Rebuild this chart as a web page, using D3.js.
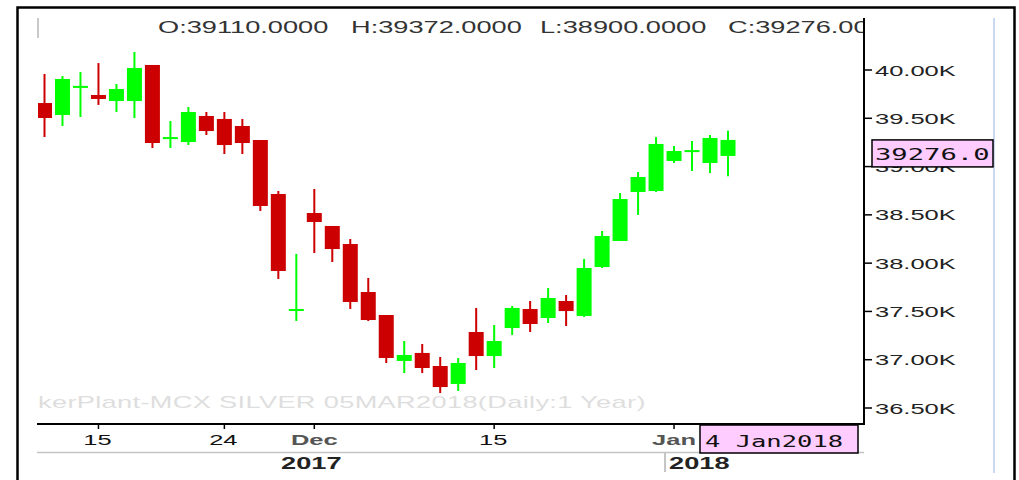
<!DOCTYPE html>
<html><head><meta charset="utf-8">
<script src="https://cdn.jsdelivr.net/npm/d3@7"></script>
<style>html,body{margin:0;padding:0;background:#fff;overflow:hidden}</style>
</head><body>
<script>
// ---- data ----
const dates = ["2017-11-10","2017-11-13","2017-11-14","2017-11-15","2017-11-16","2017-11-17","2017-11-20","2017-11-21","2017-11-22","2017-11-23","2017-11-24","2017-11-27","2017-11-28","2017-11-29","2017-11-30","2017-12-01","2017-12-04","2017-12-05","2017-12-06","2017-12-07","2017-12-08","2017-12-11","2017-12-12","2017-12-13","2017-12-14","2017-12-15","2017-12-18","2017-12-19","2017-12-20","2017-12-21","2017-12-22","2017-12-26","2017-12-27","2017-12-28","2017-12-29","2018-01-01","2018-01-02","2018-01-03","2018-01-04"];
const opens  = [39658,39534,39820,39741,39679,39679,40052,39290,39254,39524,39493,39420,39275,38716,37510,38519,38385,38198,37701,37463,36987,37070,36935,36749,37287,37038,37328,37525,37432,37608,37453,37960,38229,38737,38747,39058,39155,39037,39110];
const highs  = [39959,39938,39979,40072,39855,40186,40052,39472,39617,39565,39565,39493,39275,38747,38095,38768,38385,38250,37846,37463,37194,37163,37028,37018,37536,37359,37556,37608,37743,37670,38043,38333,38726,38944,39306,39213,39265,39327,39372];
const lows   = [39306,39420,39513,39638,39565,39503,39192,39192,39223,39327,39130,39130,38540,37836,37401,38105,38012,37525,37401,36966,36862,36862,36655,36676,36893,36914,37256,37287,37380,37349,37442,37950,38229,38499,38737,39037,38954,38933,38900];
const closes = [39503,39907,39830,39700,39803,40021,39244,39300,39565,39368,39223,39244,38592,37919,37520,38426,38146,37598,37411,37018,37049,36914,36717,36966,37038,37194,37536,37370,37639,37504,37950,38281,38664,38892,39234,39161,39165,39296,39276];
const yTickValues = [36500,37000,37500,38000,38500,39000,39500,40000];
const dayTickDates = ["2017-11-15","2017-11-24","2017-12-15"];
const dayTickLabels = ["15","24","15"];
const monthTickDates = ["2017-12-01","2018-01-01"];
const monthTickLabels = ["Dec","Jan"];
const yearLabels = ["2017","2018"];
const watermark = "kerPlant-MCX SILVER 05MAR2018(Daily:1 Year)";
const cursorDateLabel = "4 Jan2018";

// ---- layout ----
const W = 1019, H = 480, SX = 1.7;
const plot = {left: 38, right: 864, top: 18, bottom: 424};
const font = "'Liberation Sans', Arial, sans-serif";
const mono = "'DejaVu Sans Mono', monospace";

const svg = d3.select("body").append("svg").attr("width", W).attr("height", H);
svg.append("rect").attr("width", W).attr("height", H).attr("fill", "#fff");

const idx = d => dates.indexOf(d);
const x = d3.scaleLinear().domain([0, dates.length - 1]).range([44.5, 728]);
const y = d3.scaleLinear().domain([36500, 40000]).range([408, 70]);

function txt(g, s, tx, ty, opts) {
  const t = g.append("text")
    .attr("transform", `translate(${tx},${ty}) scale(${opts.sx || SX},1)`)
    .attr("font-family", opts.family || font)
    .attr("font-size", opts.size || 15)
    .attr("font-weight", opts.weight || "normal")
    .attr("fill", opts.fill || "#222")
    .attr("text-anchor", opts.anchor || "start")
    .text(s);
  if (opts.ls) t.attr("letter-spacing", opts.ls);
  return t;
}

const defs = svg.append("defs");
defs.append("clipPath").attr("id", "plotclip").append("rect")
  .attr("x", plot.left).attr("y", 8).attr("width", plot.right - plot.left).attr("height", plot.bottom - 8);

// outer frame
svg.append("path").attr("d", `M17.5,482 L17.5,7.5 L1014.5,7.5 L1014.5,482`)
  .attr("fill", "none").attr("stroke", "#000").attr("stroke-width", 2.5);

// light blue line on right
svg.append("line").attr("x1", 994).attr("x2", 994).attr("y1", 18).attr("y2", 473)
  .attr("stroke", "#c9d9f0").attr("stroke-width", 2);

// small grey marker at top-left
svg.append("line").attr("x1", 38).attr("x2", 38).attr("y1", 18).attr("y2", 38)
  .attr("stroke", "#c8c8c8").attr("stroke-width", 2);

const pg = svg.append("g").attr("clip-path", "url(#plotclip)");

// watermark
txt(pg, watermark, plot.left, 408, {size: 16, fill: "#dedede", ls: 0.2});

// header OHLC
const n = dates.length - 1;
const hdr = [["O", opens[n]], ["H", highs[n]], ["L", lows[n]], ["C", closes[n]]];
const hdrX = [158, 351, 540, 728];
hdr.forEach((h, i) => txt(pg, `${h[0]}:${h[1].toFixed(4)}`, hdrX[i], 33, {size: 16, fill: "#333"}));

// candles
const up = "#00ff00", down = "#cc0000", bw = 15;
const cg = pg.append("g");
dates.forEach((d, i) => {
  const o = opens[i], c = closes[i];
  const col = c >= o ? up : down;
  const cx = x(i);
  cg.append("line").attr("x1", cx).attr("x2", cx)
    .attr("y1", y(highs[i])).attr("y2", y(lows[i]))
    .attr("stroke", col).attr("stroke-width", 2);
  const yt = y(Math.max(o, c)), yb = y(Math.min(o, c));
  let h = yb - yt, top = yt;
  if (h < 2) { top = (yt + yb) / 2 - 1; h = 2; }
  cg.append("rect").attr("x", cx - bw / 2).attr("y", top)
    .attr("width", bw).attr("height", h).attr("fill", col);
});

// right axis
svg.append("line").attr("x1", plot.right).attr("x2", plot.right).attr("y1", plot.top).attr("y2", plot.bottom + 1)
  .attr("stroke", "#000").attr("stroke-width", 2);
const yg = svg.append("g");
yTickValues.forEach(v => {
  yg.append("line").attr("x1", plot.right).attr("x2", plot.right + 8)
    .attr("y1", y(v)).attr("y2", y(v)).attr("stroke", "#000").attr("stroke-width", 1.5);
  txt(yg, (v / 1000).toFixed(2) + "K", plot.right + 11, y(v) + 5.5, {size: 15, fill: "#222"});
});

// bottom axis
svg.append("line").attr("x1", 37).attr("x2", plot.right + 1).attr("y1", plot.bottom).attr("y2", plot.bottom)
  .attr("stroke", "#000").attr("stroke-width", 2);
const xg = svg.append("g");
dayTickDates.forEach((d, i) => {
  const px = x(idx(d));
  xg.append("line").attr("x1", px).attr("x2", px).attr("y1", plot.bottom).attr("y2", plot.bottom + 5)
    .attr("stroke", "#000").attr("stroke-width", 1.5);
  txt(xg, dayTickLabels[i], px - 1, 445, {size: 15, anchor: "middle", fill: "#111"});
});
monthTickDates.forEach((d, i) => {
  const px = x(idx(d));
  xg.append("line").attr("x1", px).attr("x2", px).attr("y1", plot.bottom).attr("y2", plot.bottom + 5)
    .attr("stroke", "#000").attr("stroke-width", 1.5);
  txt(xg, monthTickLabels[i], px, 445, {size: 15, anchor: "middle", weight: "bold", fill: "#555"});
});

// year row
svg.append("line").attr("x1", 37).attr("x2", plot.right).attr("y1", 452.5).attr("y2", 452.5)
  .attr("stroke", "#c4c4c4").attr("stroke-width", 1.5);
const sepX = (x(idx("2017-12-29")) + x(idx("2018-01-01"))) / 2;
svg.append("line").attr("x1", sepX).attr("x2", sepX).attr("y1", 452).attr("y2", 472)
  .attr("stroke", "#c4c4c4").attr("stroke-width", 2);
txt(svg, yearLabels[0], x(idx("2017-12-01")) - 3, 469, {size: 16, anchor: "middle", weight: "bold", fill: "#222"});
txt(svg, yearLabels[1], sepX + 4, 469, {size: 16, weight: "bold", fill: "#222"});

// cursor date box
svg.append("rect").attr("x", 700).attr("y", 425).attr("width", 158).attr("height", 28)
  .attr("fill", "#ffccff").attr("stroke", "#000").attr("stroke-width", 1.5);
txt(svg, cursorDateLabel, 705, 447, {size: 15, family: mono, fill: "#111"});

// last price box
const yc = y(closes[n]);
svg.append("rect").attr("x", 872).attr("y", yc).attr("width", 121).attr("height", 27)
  .attr("fill", "#ffccff").attr("stroke", "#000").attr("stroke-width", 1.5);
txt(svg, closes[n].toFixed(1), 875, yc + 20, {size: 16, family: mono, fill: "#111"});
</script>
</body></html>
